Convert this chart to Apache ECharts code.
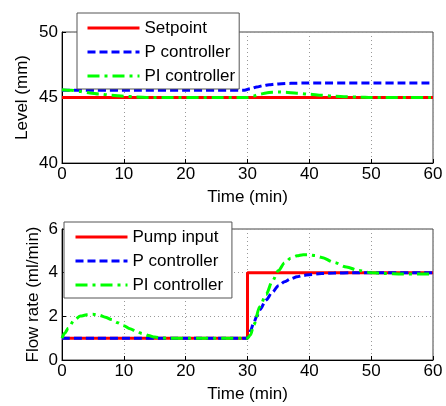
<!DOCTYPE html>
<html>
<head>
<meta charset="utf-8">
<script src="https://cdn.jsdelivr.net/npm/echarts@6/dist/echarts.min.js"></script>
<style>
  html, body { margin: 0; padding: 0; background: #fff; }
  #chart { width: 446px; height: 406px; }
</style>
</head>
<body>
<div id="chart"></div>
<script>
// top panel: level (mm)
const tSetpoint = [0, 60];
const levelSetpoint = [45, 45];
const tLevelP = [0, 29.5, 30.5, 31.5, 32.5, 33.5, 34.5, 35.5, 37, 39, 60];
const levelP = [45.55, 45.55, 45.68, 45.8, 45.9, 45.97, 46.02, 46.05, 46.08, 46.1, 46.1];
const tLevelPI = [0, 1.5, 3, 4.5, 6, 8, 10, 12, 14, 30, 31, 32, 33, 34, 35, 36, 38, 40, 42, 44, 46, 48, 50, 60];
const levelPI = [45.6, 45.55, 45.45, 45.35, 45.27, 45.17, 45.1, 45.04, 45.0, 45.0, 45.12, 45.25, 45.35, 45.4, 45.42, 45.4, 45.33, 45.25, 45.17, 45.1, 45.06, 45.03, 45.0, 45.0];

// bottom panel: flow rate (ml/min)
const tPump = [0, 30, 30, 60];
const flowPump = [1, 1, 4, 4];
const tFlowP = [0, 30, 30.5, 31, 31.5, 32, 33, 34, 35, 36, 37, 38, 39, 40, 42, 44, 47, 60];
const flowP = [1, 1, 1.35, 1.7, 2.0, 2.3, 2.75, 3.1, 3.4, 3.58, 3.72, 3.81, 3.87, 3.91, 3.96, 3.98, 4.0, 4.0];
const tFlowPI = [0, 0.5, 1, 2, 3, 4, 5, 6, 7, 8, 9, 10, 11, 12, 13, 14, 15, 16, 17, 30, 30.5, 31, 32, 33, 34, 35, 36, 37, 38, 39, 40, 41, 42, 44, 46, 48, 50, 52, 55, 60];
const flowPI = [1, 1.25, 1.45, 1.84, 2.01, 2.07, 2.09, 2.05, 1.96, 1.85, 1.71, 1.57, 1.43, 1.31, 1.21, 1.12, 1.05, 1.01, 1.0, 1.0, 1.15, 1.6, 2.45, 3.0, 3.6, 4.1, 4.45, 4.66, 4.77, 4.82, 4.82, 4.78, 4.7, 4.47, 4.26, 4.1, 4.0, 3.96, 3.94, 3.94];

const xTicks = [0, 10, 20, 30, 40, 50, 60];

const FONT = "Liberation Sans";
const zip = (xs, ys) => xs.map((x, i) => [x, ys[i]]);

const styles = {
  red: { color: "#ff0000", width: 3, type: "solid" },
  blue: { color: "#0000ff", width: 3, type: [8, 4] },
  green: { color: "#00ff00", width: 3, type: [12, 5, 3, 5] },
};

function lineSeries(name, idx, data, st, smooth) {
  return {
    name, type: "line", xAxisIndex: idx, yAxisIndex: idx,
    data, symbol: "none", smooth: smooth ? 0.3 : false,
    smoothMonotone: "x", color: st.color,
    lineStyle: { color: st.color, width: st.width, type: st.type },
    animation: false,
  };
}

const gridLine = { show: true, lineStyle: { color: "#999", type: [1, 3], width: 1 } };
const txt = { fontFamily: FONT, fontSize: 17, color: "#000" };

function xAxis(idx) {
  return {
    type: "value", gridIndex: idx, min: 0, max: 60, interval: 10,
    name: "Time (min)", nameLocation: "middle", nameGap: 26, nameMoveOverlap: false,
    nameTextStyle: txt,
    axisLine: { lineStyle: { color: "#000", width: 1 } },
    axisTick: { inside: true, length: 4, lineStyle: { color: "#000" } },
    axisLabel: Object.assign({ margin: 3,
      formatter: v => xTicks.includes(v) ? String(v) : "" }, txt),
    splitLine: gridLine,
  };
}

function yAxis(idx, name, min, max, interval, gap) {
  return {
    type: "value", gridIndex: idx, min, max, interval,
    name, nameLocation: "middle", nameGap: gap, nameMoveOverlap: false,
    nameTextStyle: txt,
    axisLine: { show: true, lineStyle: { color: "#000", width: 1 } },
    axisTick: { show: true, inside: true, length: 4, lineStyle: { color: "#000" } },
    axisLabel: Object.assign({ margin: 4 }, txt),
    splitLine: gridLine,
  };
}

function legend(names, left, top, padLeft) {
  return {
    data: names, orient: "vertical", left, top,
    itemWidth: 52, itemHeight: 14, itemGap: 4,
    padding: [5, 4, 3, padLeft],
    itemStyle: { opacity: 0 },
    lineStyle: { width: 3 },
    backgroundColor: "#fff", borderColor: "#555", borderWidth: 1,
    textStyle: Object.assign({ lineHeight: 20 }, txt),
  };
}

const chart = echarts.init(document.getElementById("chart"), null, { renderer: "canvas" });

chart.setOption({
  backgroundColor: "#fff",
  animation: false,
  grid: [
    { left: 62, top: 32, right: 13, height: 131, show: true, borderColor: "#444", borderWidth: 1 },
    { left: 62, top: 229, right: 13, height: 131, show: true, borderColor: "#444", borderWidth: 1 },
  ],
  legend: [
    legend(["Setpoint", "P controller", "PI controller"], 77, 13, 9),
    legend(["Pump input", "P controller ", "PI controller "], 64, 222, 10),
  ],
  xAxis: [xAxis(0), xAxis(1)],
  yAxis: [
    yAxis(0, "Level (mm)", 40, 50, 5, 31),
    yAxis(1, "Flow rate (ml/min)", 0, 6, 2, 20),
  ],
  series: [
    lineSeries("Setpoint", 0, zip(tSetpoint, levelSetpoint), styles.red, false),
    lineSeries("P controller", 0, zip(tLevelP, levelP), styles.blue, true),
    lineSeries("PI controller", 0, zip(tLevelPI, levelPI), styles.green, true),
    lineSeries("Pump input", 1, zip(tPump, flowPump), styles.red, false),
    lineSeries("P controller ", 1, zip(tFlowP, flowP), styles.blue, true),
    lineSeries("PI controller ", 1, zip(tFlowPI, flowPI), styles.green, true),
  ],
});
</script>
</body>
</html>
